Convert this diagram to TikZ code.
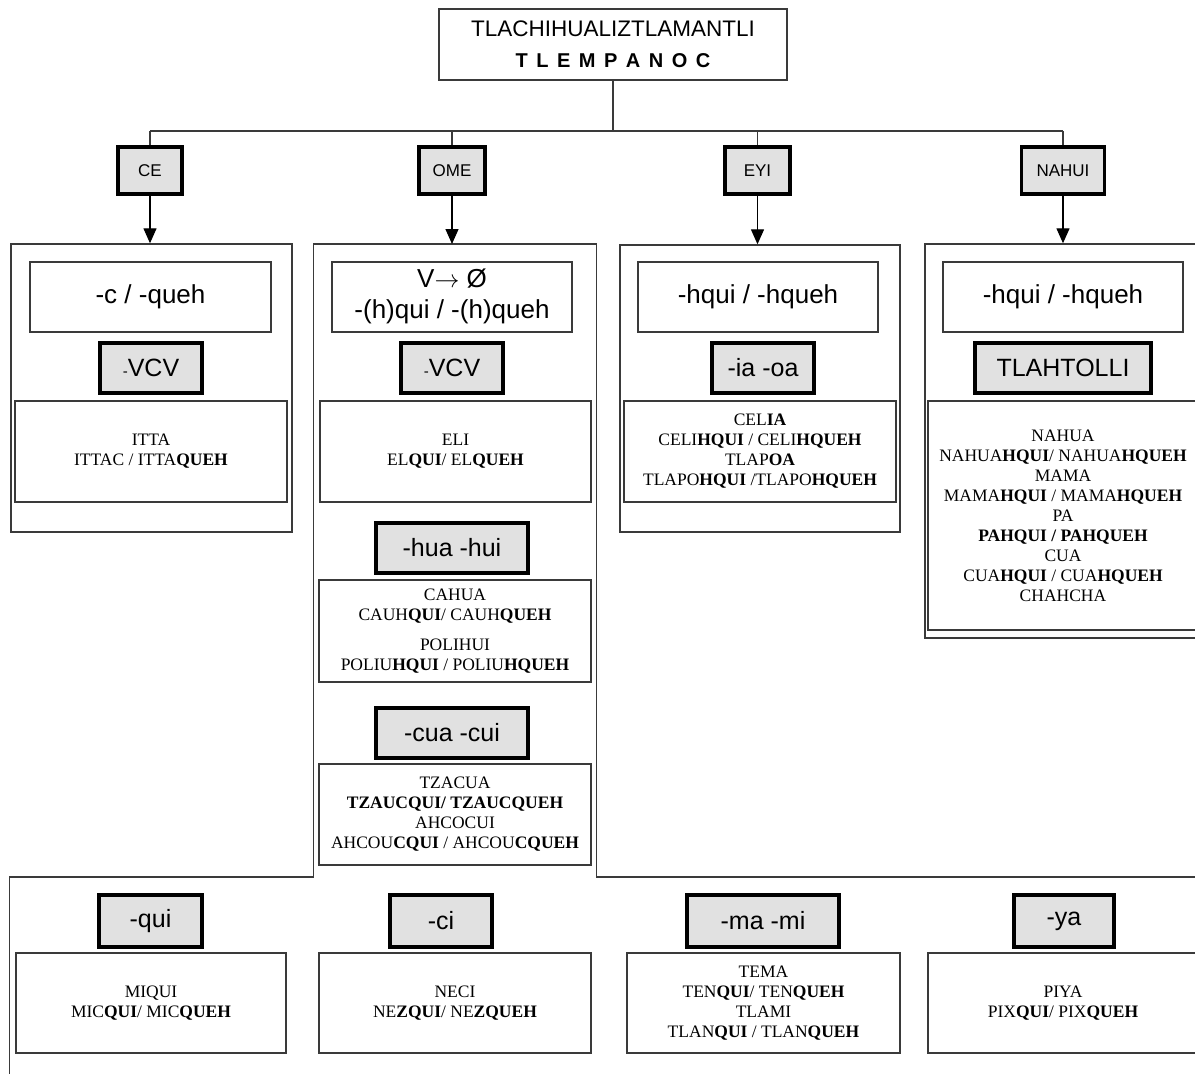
\documentclass[tikz,border=0pt]{standalone}
\usepackage{fontspec}
\setmainfont{Liberation Serif}
\newfontfamily\sansf{Liberation Sans}
\usetikzlibrary{arrows.meta}
\definecolor{boxgray}{HTML}{E1E1E1}
\definecolor{linegray}{HTML}{3A3A3A}
\begin{document}
\begin{tikzpicture}[x=1pt,y=-1pt,
  plainbox/.style={draw=linegray,line width=1.4pt,inner sep=0pt},
  outerbox/.style={draw=linegray,line width=1.4pt,inner sep=0pt},
  rulebox/.style={plainbox,minimum width=240pt,minimum height=70pt,align=center,
    font=\sansf\fontsize{26}{31}\selectfont},
  graybox/.style={draw=black,line width=3.3pt,fill=boxgray,inner sep=0pt,
    minimum height=50pt,font=\sansf\fontsize{25}{25}\selectfont},
  numbox/.style={draw=black,line width=3.3pt,fill=boxgray,inner sep=0pt,
    minimum height=47pt,font=\sansf\fontsize{17}{17}\selectfont},
  exbox/.style={plainbox,align=center,font=\fontsize{17.5}{20}\selectfont},
  conn/.style={draw=linegray,line width=1.4pt},
  arr/.style={draw=black,line width=1.3pt,-{Triangle[length=15pt,width=13pt]}}]
\useasboundingbox (0,0) rectangle (1195,1076);
\clip (0,0) rectangle (1195,1076);

% title
\node[plainbox,minimum width=348pt,minimum height=71pt,align=center,
  font=\sansf\fontsize{22.5}{31}\selectfont] (title) at (613,44.5)
  {TLACHIHUALIZTLAMANTLI\\{\fontsize{20}{31}\selectfont\bfseries T\hspace{8.5pt}L\hspace{8.5pt}E\hspace{8.5pt}M\hspace{8.5pt}P\hspace{8.5pt}A\hspace{8.5pt}N\hspace{8.5pt}O\hspace{8.5pt}C}};

% number boxes
\node[numbox,minimum width=64pt] (ce) at (150,170.5) {CE};
\node[numbox,minimum width=66pt] (ome) at (452,170.5) {OME};
\node[numbox,minimum width=65pt] (eyi) at (757.5,170.5) {EYI};
\node[numbox,minimum width=83pt] (nahui) at (1063,170.5) {NAHUI};

% bus
\coordinate (bus) at (0,131);
\draw[conn] (title.south) -- (title.south |- bus);
\draw[conn] (ce.north |- bus) -- (nahui.north |- bus);
\draw[conn] (ce.north |- bus) -- (ce.north);
\draw[conn] (ome.north |- bus) -- (ome.north);
\draw[conn] (eyi.north |- bus) -- (eyi.north);
\draw[conn] (nahui.north |- bus) -- (nahui.north);

% outer boxes
\node[outerbox,minimum width=281pt,minimum height=288pt] (ceouter) at (151.5,388) {};
\node[outerbox,minimum width=280pt,minimum height=287pt] (eyiouter) at (760,388.5) {};
\node[outerbox,minimum width=280pt,minimum height=394pt] (nahuiouter) at (1065,441) {};
\coordinate (omeTL) at (313.5,244);
\coordinate (omeTR) at (596.5,244);
\coordinate (omeBL) at (313.5,877);
\coordinate (omeBR) at (596.5,877);
\coordinate (leftB) at (9.5,877);
\coordinate (leftE) at (9.5,1073);
\coordinate (rightE) at (1200,877);
\draw[conn,line cap=rect] (leftE) -- (leftB) -- (omeBL) -- (omeTL) -- (omeTR) -- (omeBR) -- (rightE);

% arrows
\draw[arr] (ce.south) -- (ce.south |- ceouter.north);
\draw[arr] (ome.south) -- (ome.south |- omeTL);
\draw[arr] (eyi.south) -- (eyi.south |- eyiouter.north);
\draw[arr] (nahui.south) -- (nahui.south |- nahuiouter.north);

% rule boxes
\node[rulebox,minimum width=241pt] (cerule) at (150.5,297) {-c / -queh};
\node[rulebox] (omerule) at (452,297) {\raisebox{-4pt}{\begin{tabular}{@{}c@{}}V$\rightarrow$ Ø\\-(h)qui / -(h)queh\end{tabular}}};
\node[rulebox] (eyirule) at (758,297) {-hqui / -hqueh};
\node[rulebox] (nahuirule) at (1063,297) {-hqui / -hqueh};

% gray boxes row 1
\node[graybox,minimum width=102pt] (cevcv) at (151,368) {{\fontsize{15}{15}\selectfont -}VCV};
\node[graybox,minimum width=102pt] (omevcv) at (452,368) {{\fontsize{15}{15}\selectfont -}VCV};
\node[graybox,minimum width=102pt] (iaoa) at (763,368) {-ia -oa};
\node[graybox,minimum width=176pt] (tlahtolli) at (1063,368) {TLAHTOLLI};

% example boxes row 1
\node[exbox,minimum width=272pt,minimum height=101pt] (ceex) at (151,451.5)
  {ITTA\\ITTAC / ITTA\textbf{QUEH}};
\node[exbox,minimum width=271pt,minimum height=101pt] (omeex) at (455.5,451.5)
  {ELI\\EL\textbf{QUI}/ EL\textbf{QUEH}};
\node[exbox,minimum width=272pt,minimum height=101pt] (eyiex) at (760,451.5)
  {CEL\textbf{IA}\\CELI\textbf{HQUI} / CELI\textbf{HQUEH}\\TLAP\textbf{OA}\\TLAPO\textbf{HQUI} /TLAPO\textbf{HQUEH}};
\node[exbox,minimum width=270pt,minimum height=229pt] (nahuiex) at (1063,515.5)
  {NAHUA\\NAHUA\textbf{HQUI}/ NAHUA\textbf{HQUEH}\\MAMA\\MAMA\textbf{HQUI} / MAMA\textbf{HQUEH}\\PA\\\textbf{PAHQUI / PAHQUEH}\\CUA\\CUA\textbf{HQUI} / CUA\textbf{HQUEH}\\CHAHCHA};

% OME extra groups
\node[graybox,minimum width=152pt] (huahui) at (452,548) {-hua -hui};
\node[exbox,minimum width=272pt,minimum height=102pt] (huahuiex) at (455,631)
  {CAHUA\\CAUH\textbf{QUI}/ CAUH\textbf{QUEH}\\[10pt]POLIHUI\\POLIU\textbf{HQUI} / POLIU\textbf{HQUEH}};
\node[graybox,minimum width=152pt] (cuacui) at (452,733) {-cua -cui};
\node[exbox,minimum width=272pt,minimum height=101pt] (cuacuiex) at (455,814.5)
  {TZACUA\\\textbf{TZAUCQUI/ TZAUCQUEH}\\AHCOCUI\\AHCOU\textbf{CQUI} / AHCOU\textbf{CQUEH}};

% bottom row
\node[graybox,minimum width=103pt,minimum height=52pt] (qui) at (150.5,921) {-qui};
\node[exbox,minimum width=270pt,minimum height=100pt] (quiex) at (151,1003)
  {MIQUI\\MIC\textbf{QUI}/ MIC\textbf{QUEH}};
\node[graybox,minimum width=102pt,minimum height=52pt] (ci) at (441,921) {-ci};
\node[exbox,minimum width=272pt,minimum height=100pt] (ciex) at (455,1003)
  {NECI\\NE\textbf{ZQUI}/ NE\textbf{ZQUEH}};
\node[graybox,minimum width=152pt,minimum height=52pt] (mami) at (763,921) {-ma -mi};
\node[exbox,minimum width=273pt,minimum height=100pt] (mamiex) at (763.5,1003)
  {TEMA\\TEN\textbf{QUI}/ TEN\textbf{QUEH}\\TLAMI\\TLAN\textbf{QUI} / TLAN\textbf{QUEH}};
\node[graybox,minimum width=100pt,minimum height=52pt] (ya) at (1064,921) {-ya};
\node[exbox,minimum width=270pt,minimum height=100pt] (yaex) at (1063,1003)
  {PIYA\\PIX\textbf{QUI}/ PIX\textbf{QUEH}};
\end{tikzpicture}
\end{document}
